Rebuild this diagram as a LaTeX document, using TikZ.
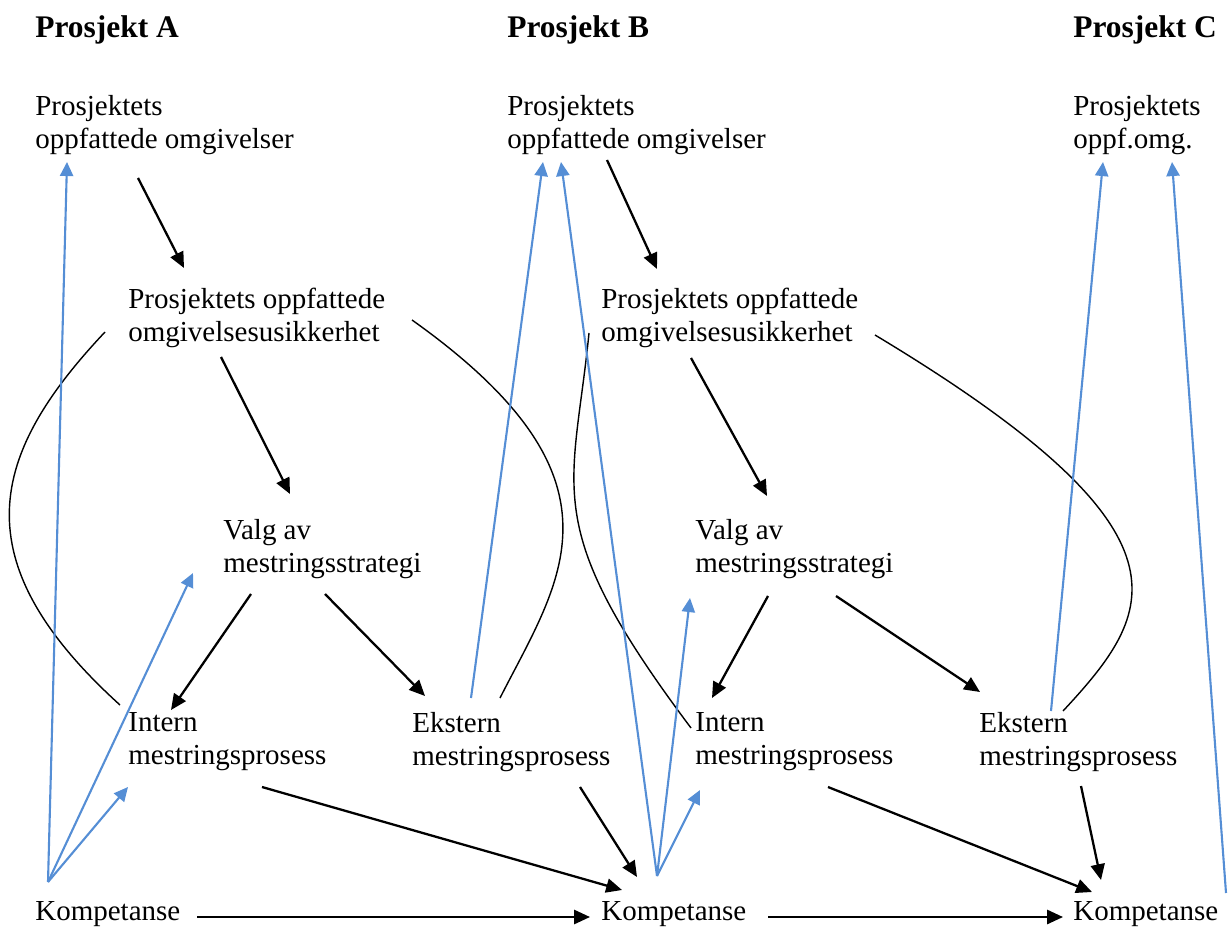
\documentclass[tikz,border=0pt]{standalone}
\usepackage{fontspec}
\setmainfont{Liberation Serif}
\usepackage{xcolor}
\usetikzlibrary{arrows.meta}
\definecolor{lineblue}{RGB}{85,142,213}

\begin{document}
\begin{tikzpicture}[x=0.02cm, y=-0.02cm, txt/.style={anchor=north west, inner sep=0, align=left, font=\fontsize{16.5}{18.8}\selectfont}, title/.style={anchor=north west, inner sep=0, font=\fontsize{17.9}{20}\selectfont\bfseries}, arr/.style={line width=1.3pt, -{Triangle[length=9pt,width=8pt]}}, barr/.style={lineblue, line width=1.2pt, -{Triangle[length=8pt,width=7.5pt]}}, link/.style={line width=0.8pt}]
  \useasboundingbox (0,0) rectangle (1229,928);
  % titles
  \node[title] (tA) at (35,15) {Prosjekt A};
  \node[title] (tB) at (507,15) {Prosjekt B};
  \node[title] (tC) at (1073,15) {Prosjekt C};
  % Prosjekt A
  \node[txt] (omgA) at (35,95) {Prosjektets\\oppfattede omgivelser};
  \node[txt] (usiA) at (128,288) {Prosjektets oppfattede\\omgivelsesusikkerhet};
  \node[txt] (valgA) at (223,519) {Valg av\\mestringsstrategi};
  \node[txt] (intA) at (128,712) {Intern\\mestringsprosess};
  \node[txt] (ekstA) at (412,712) {Ekstern\\mestringsprosess};
  \node[txt] (kompA) at (35,901) {Kompetanse};
  % Prosjekt B
  \node[txt] (omgB) at (507,95) {Prosjektets\\oppfattede omgivelser};
  \node[txt] (usiB) at (601,288) {Prosjektets oppfattede\\omgivelsesusikkerhet};
  \node[txt] (valgB) at (695,519) {Valg av\\mestringsstrategi};
  \node[txt] (intB) at (695,712) {Intern\\mestringsprosess};
  \node[txt] (ekstB) at (979,712) {Ekstern\\mestringsprosess};
  \node[txt] (kompB) at (601,901) {Kompetanse};
  % Prosjekt C
  \node[txt] (omgC) at (1073,95) {Prosjektets\\oppf.omg.};
  \node[txt] (kompC) at (1073,901) {Kompetanse};
  % end points
  \foreach \n/\x/\y in {omgAs/138/178, usiAn/184/268, usiAs/221/357, valgAn/290/494,
      valgAl/251/594, intAn/171/710, valgAr/325/594, ekstAn/425/696,
      intAs/262/787, kompBl/622/890, ekstAs/580/787, kompBn/637/877,
      kompAe/197/917, kompBw/590/917, omgBs/607/160, usiBn/657/269,
      usiBs/691/358, valgBn/767/496, valgBl/768/596, intBn/712/698,
      valgBr/836/596, ekstBn/980/692, intBs/828/787, kompCl/1092/892,
      ekstBs/1081/786, kompCn/1101/880, kompBe/768/917, kompCw/1063/917,
      usiAw/105/332, intAw/120/705, usiAe/412/320, ekstAw/500/698,
      usiBw/589/333, intBw/691/728, usiBe/875/335, ekstBe/1063/711,
      kompAt/48/882, omgAb/67/162, valgAb/193/573, intAb/128/787,
      ekstAt/471/698, omgBl/543/162, kompBt/657/876, omgBr/561/162,
      valgBb/690/598, intBb/700/790, ekstBt/1051/711, omgCl/1103/162,
      kompCt/1226/893, omgCr/1172/162}
    \coordinate (\n) at (\x,\y);
  % black arrows
  \draw[arr] (omgAs) -- (usiAn);
  \draw[arr] (usiAs) -- (valgAn);
  \draw[arr] (valgAl) -- (intAn);
  \draw[arr] (valgAr) -- (ekstAn);
  \draw[arr] (intAs) -- (kompBl);
  \draw[arr] (ekstAs) -- (kompBn);
  \draw[arr] (kompAe) -- (kompBw);
  \draw[arr] (omgBs) -- (usiBn);
  \draw[arr] (usiBs) -- (valgBn);
  \draw[arr] (valgBl) -- (intBn);
  \draw[arr] (valgBr) -- (ekstBn);
  \draw[arr] (intBs) -- (kompCl);
  \draw[arr] (ekstBs) -- (kompCn);
  \draw[arr] (kompBe) -- (kompCw);
  % curved links
  \draw[link] (usiAw) .. controls (-10,454) and (-40,560) .. (intAw);
  \draw[link] (usiAe) .. controls (637,480) and (560,580) .. (ekstAw);
  \draw[link] (usiBw) .. controls (573,493) and (538,524) .. (intBw);
  \draw[link] (usiBe) .. controls (1206,534) and (1155,612) .. (ekstBe);
  % blue arrows
  \draw[barr] (kompAt) -- (omgAb);
  \draw[barr] (kompAt) -- (valgAb);
  \draw[barr] (kompAt) -- (intAb);
  \draw[barr] (ekstAt) -- (omgBl);
  \draw[barr] (kompBt) -- (omgBr);
  \draw[barr] (kompBt) -- (valgBb);
  \draw[barr] (kompBt) -- (intBb);
  \draw[barr] (ekstBt) -- (omgCl);
  \draw[barr] (kompCt) -- (omgCr);
\end{tikzpicture}
\end{document}
